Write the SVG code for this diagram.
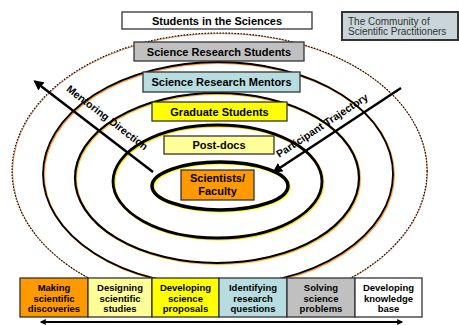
<svg xmlns="http://www.w3.org/2000/svg" width="459" height="325" viewBox="0 0 459 325">
<style>
  .box { stroke: #333; stroke-width: 1.3; }
  .t { font-family: "Liberation Sans", Arial, sans-serif; font-weight: bold; font-size: 11px; fill: #000; text-anchor: middle; }
  .bt { font-family: "Liberation Sans", Arial, sans-serif; font-weight: bold; font-size: 9.5px; fill: #000; text-anchor: middle; }
  .lbl { font-family: "Liberation Sans", Arial, sans-serif; font-weight: bold; font-size: 10.5px; fill: #000; text-anchor: middle; }
  .ring { fill: none; stroke: #000; }
  .sh { fill: none; }
  .arr { stroke: #000; fill: none; stroke-linecap: butt; }
</style>
<defs>
  <marker id="ah" viewBox="0 0 10 10" refX="8" refY="5" markerWidth="4" markerHeight="4" orient="auto-start-reverse" markerUnits="strokeWidth">
    <path d="M0,0 L10,5 L0,10 z" fill="#000"/>
  </marker>
  <marker id="ah2" viewBox="0 0 10 10" refX="8" refY="5" markerWidth="5" markerHeight="3" orient="auto-start-reverse" markerUnits="strokeWidth">
    <path d="M0,0 L10,5 L0,10 z" fill="#000"/>
  </marker>
</defs>
<rect width="459" height="325" fill="#fff"/>

<g id="rings">
  <ellipse class="sh" cx="220" cy="171.5" rx="207.5" ry="138" stroke="#e08a50" stroke-width="1"/>
  <ellipse class="ring" cx="219.5" cy="171" rx="207.5" ry="138" stroke-width="1.1" stroke-dasharray="1.5 1.5"/>
  <ellipse class="sh" cx="219" cy="175" rx="175" ry="112" stroke="#ff9933" stroke-width="1.8"/>
  <ellipse class="ring" cx="218" cy="174" rx="175" ry="112" stroke-width="1.8"/>
  <ellipse class="sh" cx="218" cy="179" rx="142" ry="85" stroke="#ffbb22" stroke-width="2.2"/>
  <ellipse class="ring" cx="217" cy="178" rx="142" ry="85" stroke-width="2.2"/>
  <ellipse class="sh" cx="218.5" cy="182.5" rx="104.5" ry="56.5" stroke="#ffe000" stroke-width="2.8"/>
  <ellipse class="ring" cx="217.5" cy="181.5" rx="104.5" ry="56.5" stroke-width="2.8"/>
  <ellipse class="sh" cx="221" cy="187" rx="68" ry="24" stroke="#ffff00" stroke-width="3.5"/>
  <ellipse class="ring" cx="220" cy="186" rx="68" ry="24" stroke-width="3.5"/>
</g>

<g id="connectors">
  <line class="arr" x1="153" y1="172" x2="35" y2="81.5" stroke-width="2.5" marker-end="url(#ah)"/>
  <line class="arr" x1="401" y1="88" x2="274" y2="171.7" stroke-width="2.5" marker-end="url(#ah)"/>
  <line class="arr" x1="41" y1="322" x2="402" y2="322" stroke-width="2" marker-start="url(#ah2)" marker-end="url(#ah2)"/>
  <text class="lbl" x="105" y="120.5" transform="rotate(37.5 105 120.5)">Mentoring Direction</text>
  <text class="lbl" x="324" y="128.5" transform="rotate(-33.4 324 128.5)">Participant Trajectory</text>
</g>

<g id="n-students-sciences">
  <rect class="box" x="122" y="12" width="190" height="17" fill="#fff"/>
  <text class="t" x="217" y="24.5">Students in the Sciences</text>
</g>
<g id="n-community">
  <rect x="342" y="12" width="116" height="28" fill="#c9d5d8" stroke="#333" stroke-width="2"/>
  <text x="348" y="24.5" font-family="'Liberation Sans', Arial, sans-serif" font-size="10" fill="#333">The Community of</text>
  <text x="348" y="34.5" font-family="'Liberation Sans', Arial, sans-serif" font-size="10" fill="#333">Scientific Practitioners</text>
</g>
<g id="n-sr-students">
  <rect class="box" x="134" y="42" width="170" height="19" fill="#c0c0c0"/>
  <text class="t" x="219" y="55.5">Science Research Students</text>
</g>
<g id="n-sr-mentors">
  <rect class="box" x="143" y="72" width="157" height="20" fill="#b7dde1"/>
  <text class="t" x="221.5" y="86">Science Research Mentors</text>
</g>
<g id="n-graduate">
  <rect class="box" x="152" y="102" width="135" height="19" fill="#ffff00"/>
  <text class="t" x="219.5" y="115.5">Graduate Students</text>
</g>
<g id="n-postdocs">
  <rect class="box" x="164" y="136" width="110" height="18" fill="#ffff99"/>
  <text class="t" x="219" y="149">Post-docs</text>
</g>
<g id="n-scientists">
  <rect class="box" x="181" y="170" width="73" height="30" fill="#ff9900"/>
  <text class="t" x="217.5" y="182">Scientists/</text>
  <text class="t" x="217.5" y="195">Faculty</text>
</g>

<g id="n-making">
  <rect class="box" x="20" y="278" width="68" height="39" fill="#ff9900"/>
  <text class="bt" x="54" y="291">Making</text>
  <text class="bt" x="54" y="301.5">scientific</text>
  <text class="bt" x="54" y="311.5">discoveries</text>
</g>
<g id="n-designing">
  <rect class="box" x="88" y="278" width="64" height="39" fill="#ffff99"/>
  <text class="bt" x="120" y="291">Designing</text>
  <text class="bt" x="120" y="301.5">scientific</text>
  <text class="bt" x="120" y="311.5">studies</text>
</g>
<g id="n-developing-proposals">
  <rect class="box" x="152" y="278" width="67" height="39" fill="#ffff00"/>
  <text class="bt" x="185.5" y="291">Developing</text>
  <text class="bt" x="185.5" y="301.5">science</text>
  <text class="bt" x="185.5" y="311.5">proposals</text>
</g>
<g id="n-identifying">
  <rect class="box" x="219" y="278" width="68" height="39" fill="#b7dde1"/>
  <text class="bt" x="253" y="291">Identifying</text>
  <text class="bt" x="253" y="301.5">research</text>
  <text class="bt" x="253" y="311.5">questions</text>
</g>
<g id="n-solving">
  <rect class="box" x="287" y="278" width="68" height="39" fill="#c0c0c0"/>
  <text class="bt" x="321" y="291">Solving</text>
  <text class="bt" x="321" y="301.5">science</text>
  <text class="bt" x="321" y="311.5">problems</text>
</g>
<g id="n-knowledge">
  <rect class="box" x="355" y="278" width="67" height="39" fill="#fff"/>
  <text class="bt" x="388.5" y="291">Developing</text>
  <text class="bt" x="388.5" y="301.5">knowledge</text>
  <text class="bt" x="388.5" y="311.5">base</text>
</g>
</svg>
